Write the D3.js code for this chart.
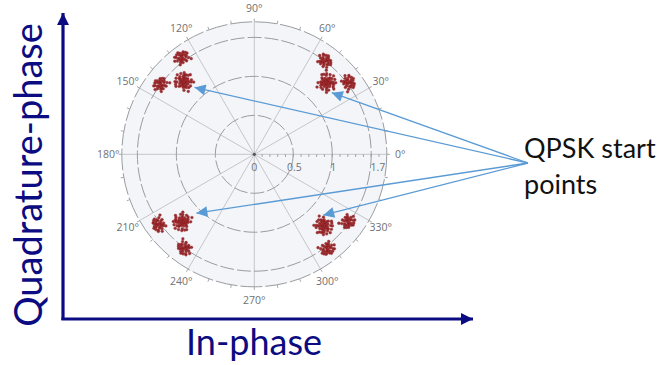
<!DOCTYPE html>
<html>
<head>
<meta charset="utf-8">
<script src="https://cdn.jsdelivr.net/npm/d3@7"></script>
<style>
  body { margin: 0; background: #fff; }
  svg { display: block; }
</style>
</head>
<body>
<svg id="chart" width="666" height="365"></svg>
<script>
// polar grid
const angleTicks = [0, 30, 60, 90, 120, 150, 180, 210, 240, 270, 300, 330];
const ringValues = [0.5, 1, 1.5, 1.7];
const radialLabels = [0, 0.5, 1, 1.7];
const maxAmp = 1.7;

// constellation clusters: main QPSK points + two satellites each
const clusterAmp   = [1.31, 1.50, 1.52, 1.30, 1.55, 1.50, 1.27, 1.52, 1.50, 1.28, 1.48, 1.53];
const clusterPhase = [44.6, 52.6, 37.0, 134.0, 126.6, 143.0, 223.0, 216.0, 233.0, 314.0, 324.0, 307.5];
const clusterKind  = ['main', 'sat', 'sat', 'main', 'sat', 'sat', 'main', 'sat', 'sat', 'main', 'sat', 'sat'];

// scatter around each cluster centre: [dAmp, dPhase(deg)]
const mainJitter = [
  [0.01, 0.3], [-0.03, 1.1], [0.05, -1.4], [-0.06, -0.6], [0.02, 2.5], [0.07, 0.7], [-0.01, -2.6],
  [0.04, -3.4], [-0.05, 2.8], [0.08, -0.3], [-0.08, 1.4], [0.0, 3.9], [0.02, -4.1], [-0.03, -1.8],
  [0.06, 3.0], [-0.07, -2.9], [0.1, 1.8], [-0.1, -1.0], [0.01, 1.7], [0.04, 0.2], [-0.04, 0.0],
  [0.03, -0.8], [-0.02, 2.0], [0.06, -2.3], [-0.06, 1.9], [0.08, 3.5], [-0.08, 3.7], [0.01, -2.0],
  [-0.01, 0.6], [0.04, 1.3], [-0.05, -3.8], [0.1, -1.7], [-0.1, 0.4], [0.02, -0.4], [-0.03, -0.8],
  [0.05, 4.4], [-0.01, 3.1], [0.06, 0.6], [-0.06, 0.9], [0.0, -1.2], [0.02, 1.0], [-0.05, -2.1],
  [0.08, -3.3], [-0.09, -4.0], [0.12, 0.1], [-0.13, 2.4], [0.03, 5.1], [0.01, -5.2], [-0.02, 0.6],
  [0.05, -2.8], [0.0, 0.0], [-0.04, 2.1], [0.02, 0.9], [-0.02, -0.5], [0.03, -1.6], [-0.01, 1.5]
];
const satJitter = [
  [0.01, 0.2], [-0.03, 1.0], [0.04, -1.2], [-0.05, -0.5], [0.02, 2.0], [0.05, 0.6], [-0.01, -2.1],
  [0.03, -2.5], [-0.04, 2.2], [0.06, -0.2], [-0.06, 1.2], [0.0, 2.9], [0.01, -3.0], [-0.02, -1.5],
  [0.05, 2.3], [-0.05, -2.4], [0.07, 1.4], [-0.07, -0.7], [0.01, 1.4], [0.03, 0.1], [-0.03, 0.0],
  [0.03, -0.7], [-0.01, 1.7], [0.05, -1.8], [-0.04, 1.6], [0.06, 2.8], [-0.06, 3.0], [0.01, -1.6],
  [0.08, 0.4], [-0.08, -3.2], [0.02, 3.9], [0.0, 0.0], [-0.02, 0.6], [0.02, -0.4]
];

// annotation arrows: tip of each arrow in polar data coords
const arrowTipAmp   = [1.15, 1.27, 1.06, 1.18];
const arrowTipPhase = [131.8, 38.5, 225.5, 318.5];

const svg = d3.select('#chart');
const cx = 254.3, cy = 154.3;
const r = d3.scaleLinear().domain([0, maxAmp]).range([0, 132.5]);
const toXY = (amp, deg) => {
  const a = deg * Math.PI / 180;
  return [cx + r(amp) * Math.cos(a), cy - r(amp) * Math.sin(a)];
};

const navy = '#0c0c82';
const blue = '#5b9bd5';

const defs = svg.append('defs');
defs.append('marker')
  .attr('id', 'blueHead')
  .attr('viewBox', '0 0 10 10')
  .attr('refX', 10).attr('refY', 5)
  .attr('markerWidth', 15).attr('markerHeight', 11)
  .attr('markerUnits', 'userSpaceOnUse')
  .attr('orient', 'auto')
  .append('path').attr('d', 'M0,0L10,5L0,10z').attr('fill', blue);
defs.append('marker')
  .attr('id', 'navyHead')
  .attr('viewBox', '0 0 10 10')
  .attr('refX', 10).attr('refY', 5)
  .attr('markerWidth', 13).attr('markerHeight', 12)
  .attr('markerUnits', 'userSpaceOnUse')
  .attr('orient', 'auto')
  .append('path').attr('d', 'M0,0L10,5L0,10z').attr('fill', navy);

// I/Q axes
svg.append('line')
  .attr('x1', 63).attr('y1', 320).attr('x2', 63).attr('y2', 13)
  .attr('stroke', navy).attr('stroke-width', 3.2)
  .attr('marker-end', 'url(#navyHead)');
svg.append('line')
  .attr('x1', 61.4).attr('y1', 319).attr('x2', 473).attr('y2', 319)
  .attr('stroke', navy).attr('stroke-width', 3.2)
  .attr('marker-end', 'url(#navyHead)');

svg.append('text')
  .attr('transform', 'translate(42,175) rotate(-90)')
  .attr('text-anchor', 'middle')
  .attr('font-family', 'Lato, "Open Sans", sans-serif')
  .attr('font-size', 38)
  .attr('fill', navy)
  .text('Quadrature-phase');
svg.append('text')
  .attr('x', 254).attr('y', 355)
  .attr('text-anchor', 'middle')
  .attr('font-family', 'Lato, "Open Sans", sans-serif')
  .attr('font-size', 36)
  .attr('fill', navy)
  .text('In-phase');

// polar grid
const grid = svg.append('g').attr('class', 'polar_grid');
grid.append('circle')
  .attr('cx', cx).attr('cy', cy).attr('r', r(maxAmp))
  .attr('fill', '#f3f5f8');

grid.selectAll('line.spoke')
  .data(angleTicks)
  .join('line')
  .attr('class', 'spoke')
  .attr('x1', cx).attr('y1', cy)
  .attr('x2', d => toXY(maxAmp, d)[0])
  .attr('y2', d => toXY(maxAmp, d)[1])
  .attr('stroke', '#c4c6c9').attr('stroke-width', 1);

grid.selectAll('circle.ring')
  .data(ringValues)
  .join('circle')
  .attr('class', 'ring')
  .attr('cx', cx).attr('cy', cy)
  .attr('r', d => r(d))
  .attr('fill', 'none')
  .attr('stroke', '#9a9c9f')
  .attr('stroke-width', 1)
  .attr('stroke-dasharray', d => (d === maxAmp ? '22,3' : '14,3'));

// rim ticks every 10 degrees
grid.selectAll('line.rimtick')
  .data(d3.range(0, 360, 10))
  .join('line')
  .attr('class', 'rimtick')
  .attr('x1', d => toXY(maxAmp, d)[0])
  .attr('y1', d => toXY(maxAmp, d)[1])
  .attr('x2', d => toXY(maxAmp + 0.04, d)[0])
  .attr('y2', d => toXY(maxAmp + 0.04, d)[1])
  .attr('stroke', '#a5a7aa');

// minor ticks along radial axis
grid.selectAll('line.radtick')
  .data(d3.range(1, 17).map(i => i / 10))
  .join('line')
  .attr('class', 'radtick')
  .attr('x1', d => cx + r(d)).attr('x2', d => cx + r(d))
  .attr('y1', cy).attr('y2', cy + 2.5)
  .attr('stroke', '#9a9c9f');

grid.selectAll('text.angle')
  .data(angleTicks)
  .join('text')
  .attr('class', 'angle')
  .attr('x', d => cx + 146 * Math.cos(d * Math.PI / 180))
  .attr('y', d => cy - 146 * Math.sin(d * Math.PI / 180))
  .attr('text-anchor', 'middle')
  .attr('dominant-baseline', 'central')
  .attr('font-family', '"Open Sans", sans-serif')
  .attr('font-size', 10.5)
  .attr('fill', '#6f7174')
  .text(d => d + '°');

grid.selectAll('text.radial')
  .data(radialLabels)
  .join('text')
  .attr('class', 'radial')
  .attr('x', d => (d === maxAmp ? cx + r(d) - 9 : cx + r(d) + (d === 0 ? 0 : 1)))
  .attr('y', cy + 17)
  .attr('text-anchor', 'middle')
  .attr('font-family', '"Open Sans", sans-serif')
  .attr('font-size', 10.5)
  .attr('fill', '#6f7174')
  .text(d => d);

grid.append('circle')
  .attr('cx', cx).attr('cy', cy).attr('r', 1.6)
  .attr('fill', '#555');

// constellation points
const points = [];
clusterAmp.forEach((amp, i) => {
  const jitter = clusterKind[i] === 'main' ? mainJitter : satJitter;
  jitter.forEach(([da, dp]) => {
    points.push(toXY(amp + da, clusterPhase[i] + dp));
  });
});

svg.append('g').attr('class', 'points')
  .selectAll('circle')
  .data(points)
  .join('circle')
  .attr('cx', d => d[0])
  .attr('cy', d => d[1])
  .attr('r', 1.4)
  .attr('fill', '#8c1a1d')
  .attr('fill-opacity', 0.9)
  .attr('stroke', '#a33a3c')
  .attr('stroke-width', 0.4);

// annotation
const anchor = [528, 163];
svg.append('g').attr('class', 'arrows')
  .selectAll('line')
  .data(arrowTipAmp.map((a, i) => toXY(a, arrowTipPhase[i])))
  .join('line')
  .attr('x1', anchor[0]).attr('y1', anchor[1])
  .attr('x2', d => d[0]).attr('y2', d => d[1])
  .attr('stroke', blue).attr('stroke-width', 1.3)
  .attr('marker-end', 'url(#blueHead)');

const note = svg.append('text')
  .attr('font-family', 'Lato, "Open Sans", sans-serif')
  .attr('font-size', 27)
  .attr('fill', '#111');
note.append('tspan').attr('x', 524).attr('y', 158).text('QPSK start');
note.append('tspan').attr('x', 524).attr('y', 194).text('points');
</script>
</body>
</html>
